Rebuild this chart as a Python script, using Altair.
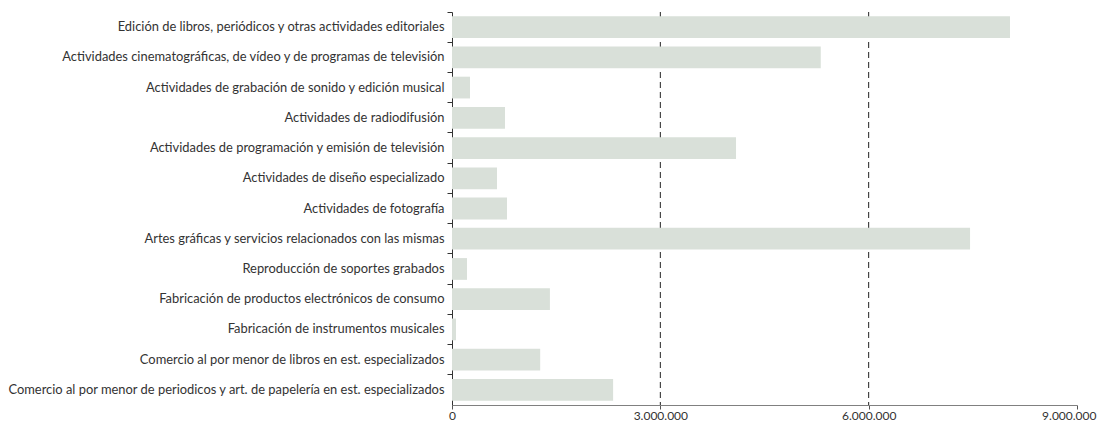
import altair as alt
import pandas as pd

categorias = [
    "Edición de libros, periódicos y otras actividades editoriales",
    "Actividades  cinematográficas, de vídeo y de programas de televisión",
    "Actividades de grabación de sonido y edición musical",
    "Actividades de radiodifusión",
    "Actividades de programación y emisión de televisión",
    "Actividades de diseño especializado",
    "Actividades de fotografía",
    "Artes gráficas y servicios relacionados con las mismas",
    "Reproducción de soportes grabados",
    "Fabricación de productos electrónicos de consumo",
    "Fabricación de instrumentos musicales",
    "Comercio al por menor de libros en est. especializados",
    "Comercio al por menor de periodicos y art. de papelería en est. especializados",
]
valores = [8035000, 5310000, 259000, 763000, 4090000, 648000, 792000,
           7460000, 216000, 1410000, 58000, 1270000, 2320000]
ticks_x = [0, 3000000, 6000000, 9000000]
lineas_guia = [3000000, 6000000]

df = pd.DataFrame({"cat": categorias, "valor": valores})
df_grid = pd.DataFrame({"v": lineas_guia})

FONT = "Lato"
FS = 12.9

grid = alt.Chart(df_grid).mark_rule(color="#222222", strokeDash=[6, 4], strokeWidth=1).encode(
    x=alt.X("v:Q", scale=alt.Scale(domain=[0, 9000000]))
)

bars = alt.Chart(df).mark_bar(color="#D9E0D9", height={"band": 0.72}).encode(
    y=alt.Y(
        "cat:N",
        sort=categorias,
        scale=alt.Scale(paddingInner=0, paddingOuter=0),
        axis=alt.Axis(
            title=None,
            bandPosition=0,
            domainColor="#333333",
            tickColor="#333333",
            tickSize=5,
            labelFont=FONT,
            labelFontSize=FS,
            labelColor="#333333",
            labelPadding=3,
            labelLimit=500,
            grid=False,
        ),
    ),
    x=alt.X(
        "valor:Q",
        scale=alt.Scale(domain=[0, 9000000], nice=False),
        axis=alt.Axis(
            title=None,
            values=ticks_x,
            labelExpr="replace(format(datum.value, ',d'), /,/g, '.')",
            labelAlign={"condition": {"test": "datum.value >= 9000000", "value": "right"}, "value": "center"},
            labelOffset={"condition": {"test": "datum.value >= 9000000", "value": 19}, "value": 0},
            domainColor="#808080",
            tickColor="#555555",
            tickSize=4,
            labelFont=FONT,
            labelFontSize=12,
            labelColor="#333333",
            labelPadding=1,
            grid=False,
        ),
    ),
)

chart = alt.layer(grid, bars).properties(
    width=625,
    height=393,
    autosize=alt.AutoSizeParams(type="none"),
    padding={"left": 444, "top": 4, "right": 20, "bottom": 16},
).configure_view(stroke=None)

chart.save("out.html", embed_options={"renderer": "svg", "actions": False})
